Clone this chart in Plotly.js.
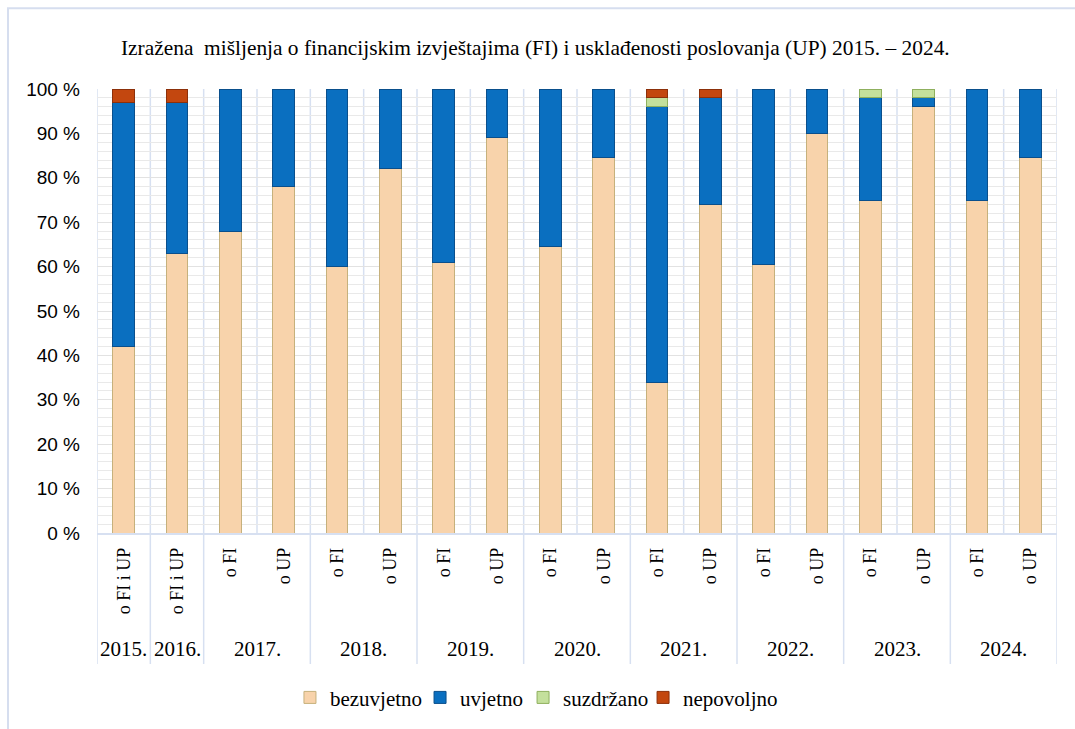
<!DOCTYPE html>
<html>
<head>
<meta charset="utf-8">
<script src="https://cdn.plot.ly/plotly-3.0.1.min.js"></script>
<style>html,body{margin:0;padding:0;background:#fff;}#chart{width:1075px;height:729px;}</style>
</head>
<body>
<div id="chart"></div>
<script>
// ---- data ----
const groupYears = ['2015.','2016.','2017.','2018.','2019.','2020.','2021.','2022.','2023.','2024.'];
const barYear = ['2015.','2016.','2017.','2017.','2018.','2018.','2019.','2019.','2020.','2020.','2021.','2021.','2022.','2022.','2023.','2023.','2024.','2024.'];
const subLabels = ['o FI i UP','o FI i UP','o FI','o UP','o FI','o UP','o FI','o UP','o FI','o UP','o FI','o UP','o FI','o UP','o FI','o UP','o FI','o UP'];
const bezuvjetno = [42,63,68,78,60,82,61,89,64.5,84.5,34,74,60.5,90,75,96,75,84.5];
const uvjetno    = [55,34,32,22,40,18,39,11,35.5,15.5,62,24,39.5,10,23,2,25,15.5];
const suzdrzano  = [null,null,null,null,null,null,null,null,null,null,2,null,null,null,2,2,null,null];
const nepovoljno = [3,3,null,null,null,null,null,null,null,null,2,2,null,null,null,null,null,null];
const seriesNames = ['bezuvjetno','uvjetno','suzdržano','nepovoljno'];
const titleText = 'Izražena  mišljenja o financijskim izvještajima (FI) i usklađenosti poslovanja (UP) 2015. – 2024.';

// ---- build ----
const idx = subLabels.map((_, i) => i);
const styles = [
  {fill:'#f8d3ab', line:'#c6b17c'},
  {fill:'#0a6fc0', line:'#0a4f8c'},
  {fill:'#c4e09c', line:'#8fb05e'},
  {fill:'#c3470f', line:'#8c300a'}
];
const legendIds = ['legend','legend2','legend3','legend4'];
const legendX = [0.201, 0.3365, 0.4438, 0.5688];
const seriesVals = [bezuvjetno, uvjetno, suzdrzano, nepovoljno];
const traces = seriesVals.map((vals, k) => ({
  type:'bar', x: idx, y: vals, name: seriesNames[k],
  width: 0.41, legend: legendIds[k],
  marker:{color: styles[k].fill, line:{color: styles[k].line, width:1}},
  hoverinfo:'skip'
}));

const serif = 'Liberation Serif, Times New Roman, serif';
const gridBlue = '#d7e0f1';
const shapes = [];
for (let i = 0; i <= idx.length; i++) {
  shapes.push({type:'line', xref:'x', yref:'paper', x0:i-0.5, x1:i-0.5, y0:0, y1:1,
               line:{color:gridBlue, width:1.5}, layer:'below'});
}
const annotations = [];
let start = 0;
groupYears.forEach(g => {
  let end = start;
  while (end + 1 < barYear.length && barYear[end + 1] === g) end++;
  annotations.push({xref:'x', yref:'paper', x:(start + end) / 2, y:-0.262, text:g,
                    showarrow:false, xanchor:'center', yanchor:'middle',
                    font:{family:serif, size:21, color:'#000'}});
  shapes.push({type:'line', xref:'x', yref:'paper', x0:start-0.5, x1:start-0.5, y0:0, y1:-0.295,
               line:{color:gridBlue, width:1.5}});
  start = end + 1;
});
shapes.push({type:'line', xref:'x', yref:'paper', x0:start-0.5, x1:start-0.5, y0:0, y1:-0.295,
             line:{color:gridBlue, width:1.5}});
shapes.push({type:'rect', xref:'paper', yref:'paper', x0:-0.0927, x1:1.1, y0:-0.6, y1:1.182,
             line:{color:'#d6deef', width:2}, fillcolor:'rgba(0,0,0,0)'});

const layout = {
  width:1075, height:729,
  margin:{l:97, r:18, t:89, b:195},
  paper_bgcolor:'#fff', plot_bgcolor:'#fff',
  font:{family:serif, size:19, color:'#000'},
  barmode:'stack',
  title:{text:titleText, x:0.498, xanchor:'center', y:0.935, yanchor:'middle',
         font:{family:serif, size:21.4, color:'#000'}},
  xaxis:{range:[-0.5, idx.length - 0.5], tickvals:idx, ticktext:subLabels, tickangle:-90,
         showgrid:false, zeroline:false, showline:true, linecolor:gridBlue, linewidth:1.5,
         ticks:'', ticklabelstandoff:6,
         tickfont:{family:serif, size:18, color:'#000'}},
  yaxis:{range:[0,100], dtick:10, ticksuffix:' %', showgrid:true, gridcolor:'#e2e2e2', gridwidth:1,
         minor:{dtick:2, showgrid:true, gridcolor:'#e9e9e9', gridwidth:1},
         zeroline:false, showline:false, ticks:'', ticklabelstandoff:16,
         tickfont:{family:'Liberation Sans, Arial, sans-serif', size:19, color:'#000'}},
  showlegend:true,
  annotations: annotations,
  shapes: shapes,
  hovermode:false
};
legendIds.forEach((id, k) => {
  layout[id] = {orientation:'h', x:legendX[k], xanchor:'left', y:-0.368, yanchor:'middle',
                itemwidth:30, bgcolor:'rgba(0,0,0,0)', borderwidth:0,
                font:{family:'Liberation Serif', size:21, color:'#000'}};
});
Plotly.newPlot('chart', traces, layout, {displayModeBar:false, staticPlot:true});
</script>
</body>
</html>
